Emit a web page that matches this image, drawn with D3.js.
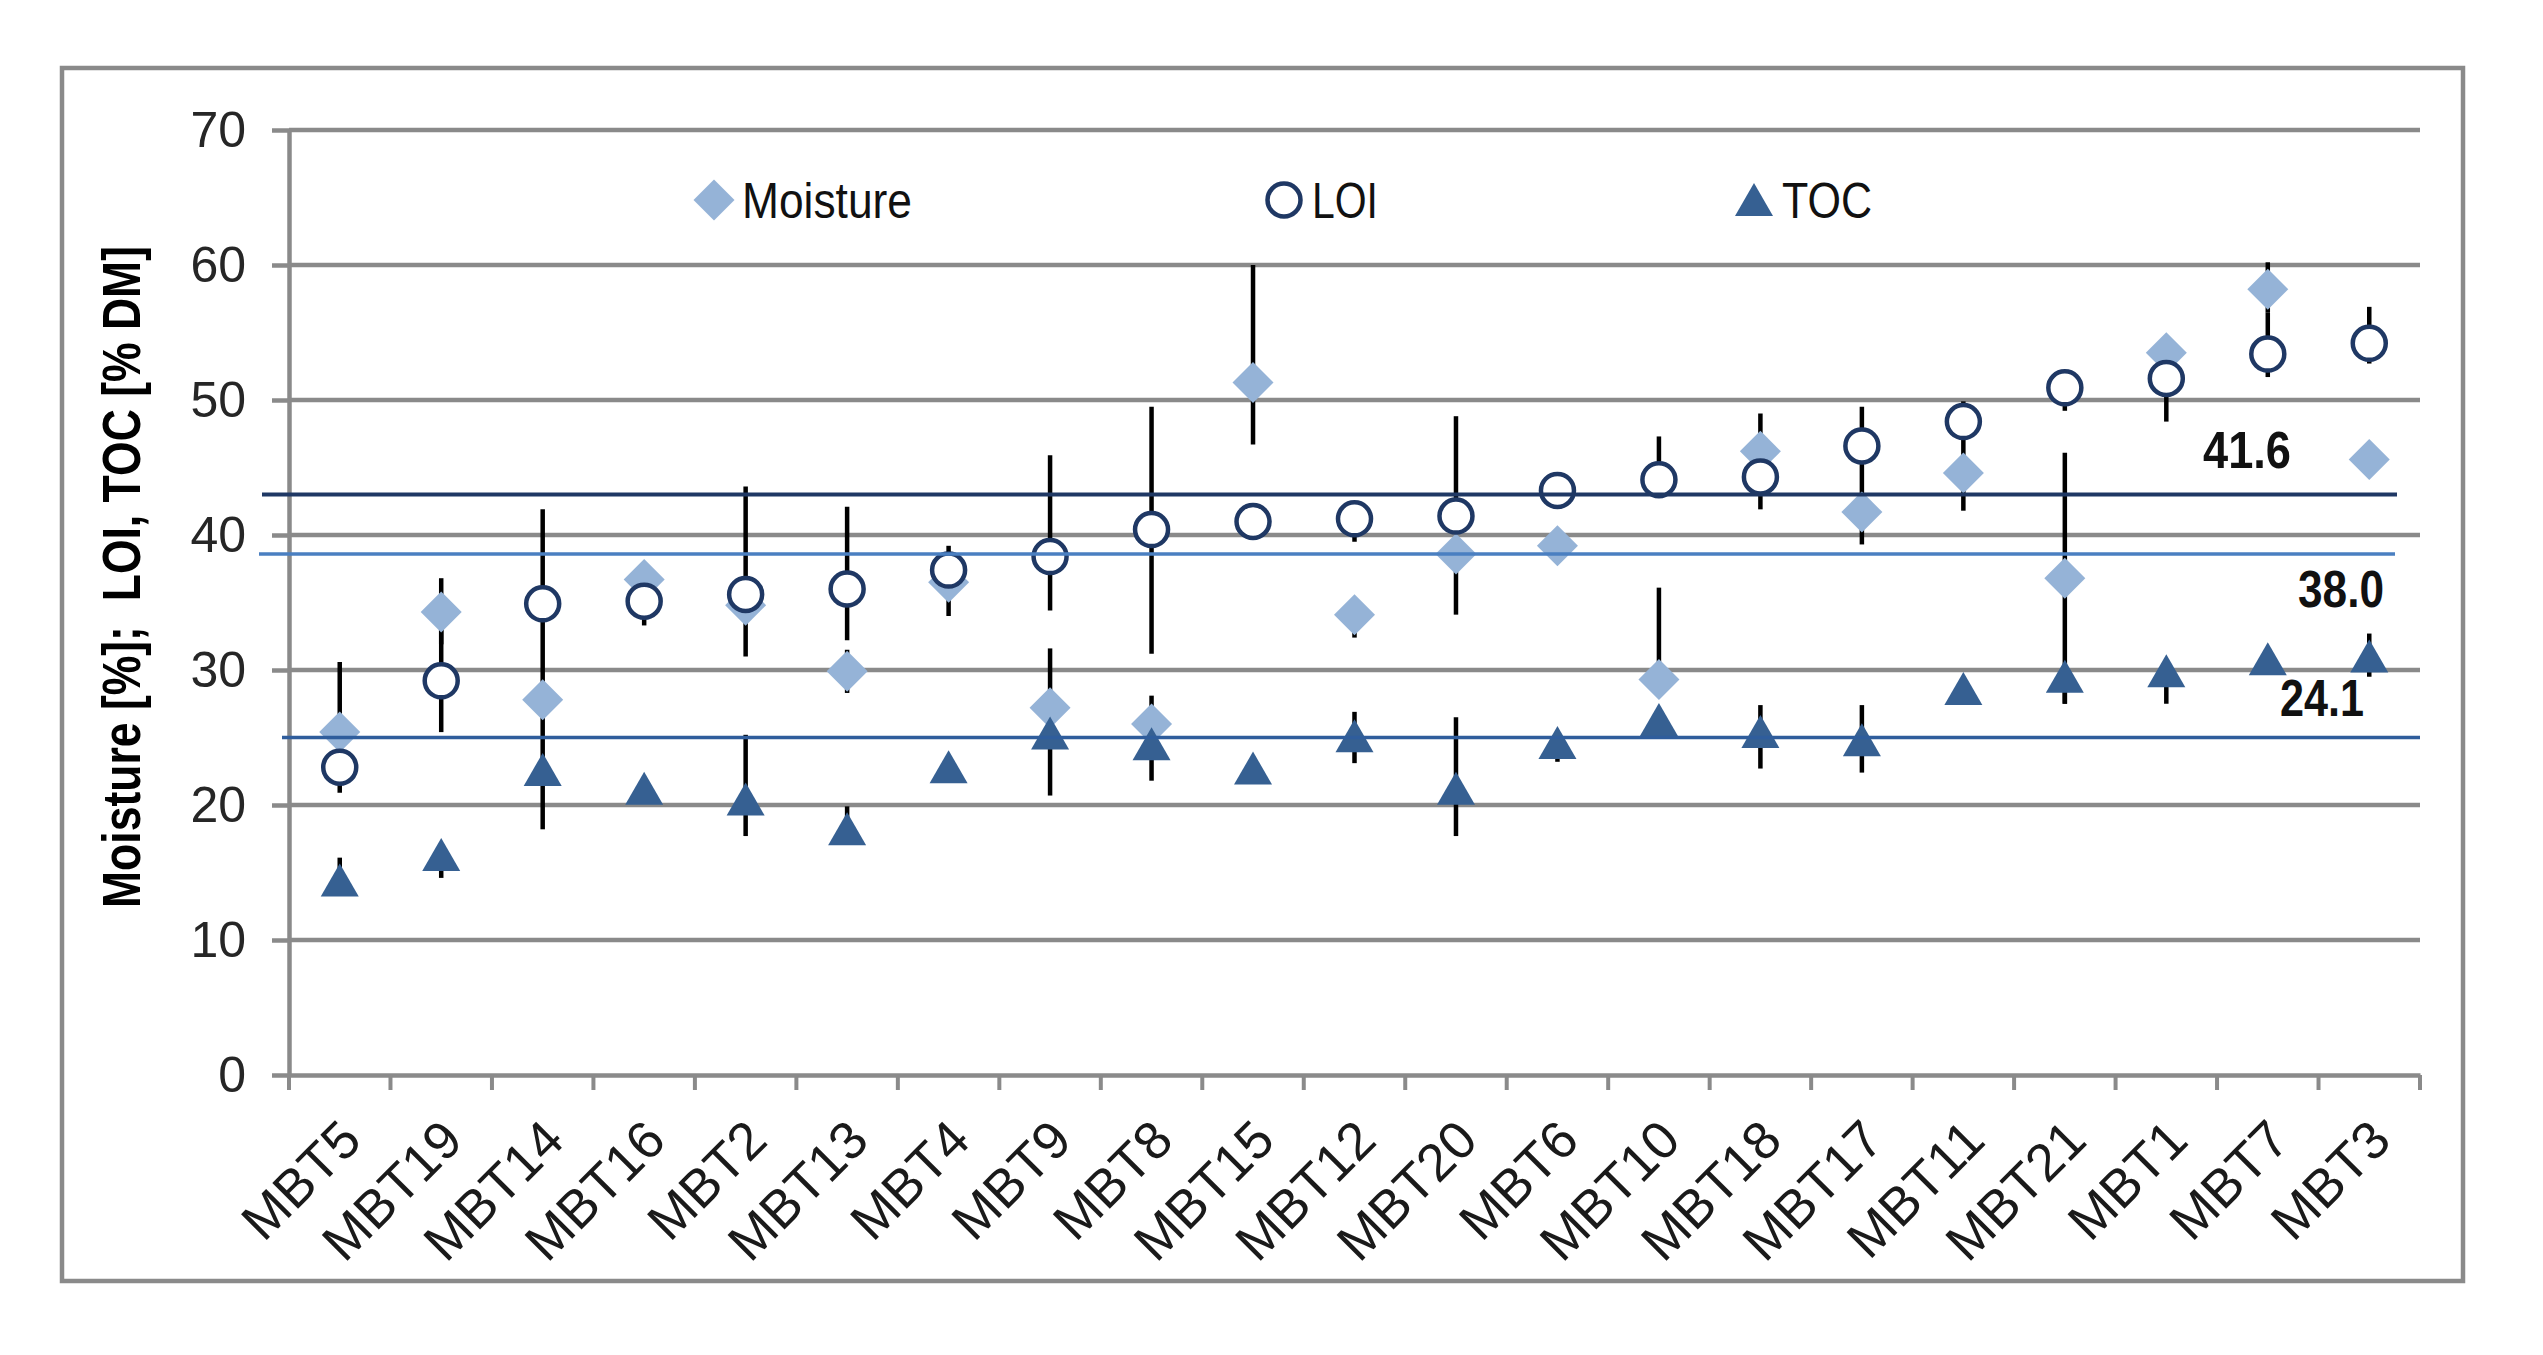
<!DOCTYPE html>
<html>
<head>
<meta charset="utf-8">
<script src="https://cdn.jsdelivr.net/npm/d3@7"></script>
<style>
  html, body { margin: 0; padding: 0; background: #ffffff; }
  svg { display: block; }
  text { font-family: "Liberation Sans", Arial, sans-serif; }
</style>
</head>
<body>
<script>
// ---------------- data ----------------
const categories = ["MBT5","MBT19","MBT14","MBT16","MBT2","MBT13","MBT4","MBT9","MBT8","MBT15","MBT12",
                    "MBT20","MBT6","MBT10","MBT18","MBT17","MBT11","MBT21","MBT1","MBT7","MBT3"];

const moisture = [25.4, 34.3, 27.8, 36.7, 34.8, 29.9, 36.5, 27.2, 26.0, 51.3, 34.1,
                  38.6, 39.2, 29.3, 46.2, 41.7, 44.6, 36.8, 53.5, 58.2, 45.6];
const loi      = [22.8, 29.2, 34.9, 35.1, 35.6, 36.0, 37.4, 38.4, 40.4, 41.0, 41.2,
                  41.4, 43.3, 44.1, 44.3, 46.6, 48.4, 50.9, 51.6, 53.4, 54.2];
const toc      = [14.4, 16.3, 22.6, 21.2, 20.4, 18.2, 22.8, 25.3, 24.5, 22.7, 25.1,
                  21.2, 24.6, 26.3, 25.4, 24.8, 28.6, 29.5, 29.9, 30.8, 31.0];

// error ranges [low, high] (null = no bar)
const moistureRange = [[20.9,30.6],[31.9,36.8],null,null,null,[28.3,31.5],null,[27.2,31.6],[26.0,28.1],[46.7,60.0],[32.4,34.1],
                       [34.1,38.6],null,[29.3,36.1],[44.3,49.0],[39.3,41.7],[41.8,44.6],[27.5,46.1],null,[56.5,60.2],null];
const loiRange      = [null,[25.4,33.0],[27.9,41.9],[33.3,35.1],[31.0,43.6],[32.2,42.1],[34.0,39.2],[34.4,45.9],[31.2,49.5],null,[39.5,41.2],
                       [41.4,48.8],null,[44.1,47.3],[41.9,44.3],[41.7,49.5],[44.6,49.9],[49.2,50.9],[48.4,51.6],[51.7,56.5],[52.7,56.9]];
const tocRange      = [[14.4,16.1],[14.6,16.3],[18.2,27.0],null,[17.7,25.2],[18.2,19.9],null,[20.7,25.3],[21.8,24.5],null,[23.1,26.9],
                       [17.7,26.5],[23.2,24.6],null,[22.7,27.4],[22.4,27.4],null,[27.5,29.5],[27.5,29.9],null,[29.5,32.7]];

const refValues = [43.0, 38.6, 25.0];
const refLabels = ["41.6", "38.0", "24.1"];

const yTicks = [0, 10, 20, 30, 40, 50, 60, 70];
const seriesNames = ["Moisture", "LOI", "TOC"];
const yTitle = "Moisture [%];  LOI, TOC [% DM]";

// ---------------- layout ----------------
const W = 2543, H = 1355;
const plotL = 289, plotR = 2420, plotT = 130, plotB = 1075;
const gridColor = "#8a8a8a";
const cMoist = "#95b3d7", cLoi = "#1f3864", cToc = "#366092";
const refColors = ["#1f3864", "#4a7fc1", "#2f5d9c"];
const refWidths = [4, 3.5, 3.5];
const refExtents = [[262, 2397], [259, 2395], [282, 2420]];

const svg = d3.select("body").append("svg").attr("width", W).attr("height", H);

svg.append("rect").attr("x", 62).attr("y", 68).attr("width", 2401).attr("height", 1213)
  .attr("fill", "#fff").attr("stroke", "#8a8a8a").attr("stroke-width", 4.5);

const x = d3.scaleBand().domain(categories).range([plotL, plotR]).padding(0);
const y = d3.scaleLinear().domain([0, 70]).range([plotB, plotT]);
const cx = c => x(c) + x.bandwidth() / 2;

// gridlines
svg.append("g").selectAll("line").data(yTicks.filter(v => v > 0)).join("line")
  .attr("x1", plotL).attr("x2", plotR).attr("y1", d => y(d)).attr("y2", d => y(d))
  .attr("stroke", gridColor).attr("stroke-width", 4.5);

// y axis
const yAxis = svg.append("g").attr("transform", `translate(${plotL},0)`)
  .call(d3.axisLeft(y).tickValues(yTicks).tickSizeInner(17).tickSizeOuter(0).tickPadding(26));
yAxis.select(".domain").attr("stroke", gridColor).attr("stroke-width", 4.5);
yAxis.selectAll(".tick line").attr("stroke", gridColor).attr("stroke-width", 4.5);
yAxis.selectAll(".tick text").attr("font-size", 50).attr("fill", "#262626")
  .attr("font-family", "'Liberation Sans', Arial, sans-serif");

// x axis
const xAxis = svg.append("g").attr("transform", `translate(0,${plotB})`)
  .call(d3.axisBottom(x).tickSize(0).tickFormat(""));
xAxis.select(".domain").attr("stroke", gridColor).attr("stroke-width", 4.5);
const bounds = categories.map(c => x(c)).concat([x(categories[categories.length - 1]) + x.bandwidth()]);
svg.append("g").selectAll("line").data(bounds).join("line")
  .attr("x1", d => d).attr("x2", d => d).attr("y1", plotB).attr("y2", plotB + 15)
  .attr("stroke", gridColor).attr("stroke-width", 4);

svg.append("g").selectAll("text").data(categories).join("text")
  .attr("transform", d => `translate(${cx(d) + 24},${plotB + 68}) rotate(-45)`)
  .attr("text-anchor", "end").attr("font-size", 53).attr("fill", "#1a1a1a")
  .text(d => d);

// y title
svg.append("text")
  .attr("transform", `translate(140,577) rotate(-90)`)
  .attr("text-anchor", "middle").attr("font-size", 54).attr("font-weight", "bold")
  .attr("fill", "#000").attr("textLength", 662).attr("lengthAdjust", "spacingAndGlyphs")
  .style("white-space", "pre")
  .text(yTitle);

// error bars
const errG = svg.append("g");
function drawErr(ranges) {
  const rows = categories.map((c, i) => ({ c, r: ranges[i] })).filter(d => d.r);
  errG.append("g").selectAll("line").data(rows).join("line")
    .attr("x1", d => cx(d.c)).attr("x2", d => cx(d.c))
    .attr("y1", d => y(d.r[0])).attr("y2", d => y(d.r[1]))
    .attr("stroke", "#000").attr("stroke-width", 4.5);
}
drawErr(moistureRange);
drawErr(loiRange);
drawErr(tocRange);

// markers
const diamondPath = "M0,-20.5L20.5,0L0,20.5L-20.5,0Z";
const trianglePath = "M0,-17L19,16L-19,16Z";

svg.append("g").selectAll("path").data(categories).join("path")
  .attr("d", diamondPath).attr("fill", cMoist)
  .attr("transform", (d, i) => `translate(${cx(d)},${y(moisture[i])})`);

svg.append("g").selectAll("circle").data(categories).join("circle")
  .attr("cx", d => cx(d)).attr("cy", (d, i) => y(loi[i])).attr("r", 16.5)
  .attr("fill", "#fff").attr("stroke", cLoi).attr("stroke-width", 4.5);

svg.append("g").selectAll("path").data(categories).join("path")
  .attr("d", trianglePath).attr("fill", cToc)
  .attr("transform", (d, i) => `translate(${cx(d)},${y(toc[i])})`);

// reference lines
svg.append("g").selectAll("line").data(refValues).join("line")
  .attr("x1", (d, i) => refExtents[i][0]).attr("x2", (d, i) => refExtents[i][1])
  .attr("y1", d => y(d)).attr("y2", d => y(d))
  .attr("stroke", (d, i) => refColors[i]).attr("stroke-width", (d, i) => refWidths[i]);

const refLabelPos = [[2203, 468, 88], [2298, 607, 86], [2280, 716, 84]];
svg.append("g").selectAll("text").data(refLabels).join("text")
  .attr("x", (d, i) => refLabelPos[i][0]).attr("y", (d, i) => refLabelPos[i][1])
  .attr("textLength", (d, i) => refLabelPos[i][2]).attr("lengthAdjust", "spacingAndGlyphs")
  .attr("font-size", 52).attr("font-weight", "bold").attr("fill", "#111")
  .text(d => d);

// legend
const legend = svg.append("g");
const legMarkX = [714, 1284, 1754];
const legTextX = [742, 1312, 1782];
const legTextLen = [170, 66, 90];
const legY = 200;
legend.append("path").attr("d", diamondPath).attr("fill", cMoist)
  .attr("transform", `translate(${legMarkX[0]},${legY})`);
legend.append("circle").attr("cx", legMarkX[1]).attr("cy", legY).attr("r", 16.5)
  .attr("fill", "#fff").attr("stroke", cLoi).attr("stroke-width", 4.5);
legend.append("path").attr("d", trianglePath).attr("fill", cToc)
  .attr("transform", `translate(${legMarkX[2]},${legY})`);
legend.selectAll("text").data(seriesNames).join("text")
  .attr("x", (d, i) => legTextX[i]).attr("y", legY + 18)
  .attr("font-size", 50).attr("fill", "#111")
  .attr("textLength", (d, i) => legTextLen[i]).attr("lengthAdjust", "spacingAndGlyphs")
  .text(d => d);
</script>
</body>
</html>
